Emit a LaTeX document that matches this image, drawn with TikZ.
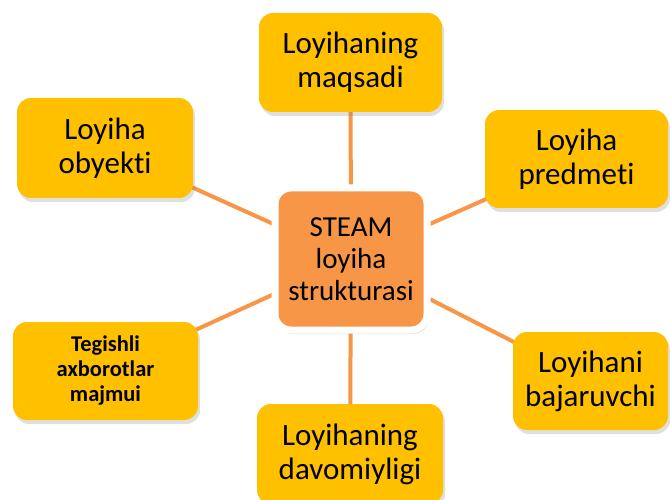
\documentclass[tikz,border=0pt]{standalone}
\usepackage{fontspec}
\setmainfont{Carlito}[Ligatures=NoCommon]
\usetikzlibrary{shadows}
\pgfdeclarelayer{background}
\pgfsetlayers{background,main}
\definecolor{boxy}{HTML}{FFC000}
\definecolor{cor}{HTML}{F79646}
\tikzset{
  leaf/.style={fill=boxy, rounded corners=14pt, align=center, inner sep=0pt,
    font=\fontsize{31}{34}\selectfont,
    drop shadow={shadow xshift=2pt, shadow yshift=-4pt, opacity=0.25}},
  hub/.style={fill=cor, draw=white, line width=7pt, rounded corners=16pt, align=center, inner sep=0pt,
    font=\fontsize{29}{32}\selectfont,
    drop shadow={shadow xshift=2pt, shadow yshift=-4pt, opacity=0.25}},
  link/.style={draw=cor, line width=4pt}
}
\begin{document}
\begin{tikzpicture}[x=1pt,y=-1pt]
\useasboundingbox (0,0) rectangle (670,500);
\clip (0,0) rectangle (670,500);
\begin{pgfonlayer}{background}
\fill[white] (0,0) rectangle (670,500);
\end{pgfonlayer}
\node[leaf, minimum width=183pt, minimum height=99pt] (top) at (350.5,62.5) {Loyihaning\\maqsadi};
\node[leaf, minimum width=176pt, minimum height=100pt] (lu) at (105,148) {Loyiha\\obyekti};
\node[leaf, minimum width=183pt, minimum height=98pt] (ru) at (576.5,159) {Loyiha\\predmeti};
\node[leaf, minimum width=185pt, minimum height=98pt, font=\bfseries\fontsize{22.5}{25}\selectfont] (ll) at (105.5,371) {Tegishli\\axborotlar\\majmui};
\node[leaf, minimum width=155pt, minimum height=98pt] (rl) at (590.5,381) {Loyihani\\bajaruvchi};
\node[leaf, minimum width=186pt, minimum height=100pt] (bot) at (350,454) {Loyihaning\\davomiyligi};
\node[hub, minimum width=152pt, minimum height=142pt] (hub) at (351,259) {STEAM\\loyiha\\strukturasi};
\begin{pgfonlayer}{background}
\draw[link] (hub.center) -- (top.center);
\draw[link] (hub.center) -- (bot.center);
\draw[link] (hub.center) -- (lu.center);
\draw[link] (hub.center) -- (ru.center);
\draw[link] (hub.center) -- (ll.center);
\draw[link] (hub.center) -- (rl.center);
\end{pgfonlayer}
\end{tikzpicture}
\end{document}
